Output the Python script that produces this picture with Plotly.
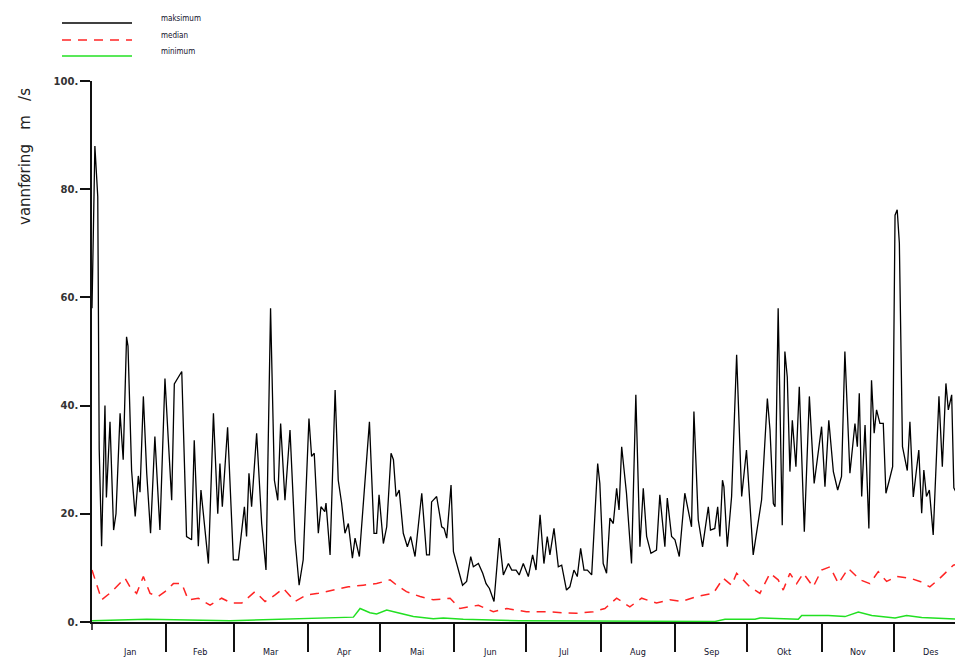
import plotly.graph_objects as go

# ---------------- data ----------------
months = ["Jan", "Feb", "Mar", "Apr", "Mai", "Jun", "Jul", "Aug", "Sep", "Okt", "Nov", "Des"]
month_days = [31, 28, 31, 30, 31, 30, 31, 31, 30, 31, 30, 31]
y_ticks = [0, 20, 40, 60, 80, 100]
y_tick_text = ["0.", "20.", "40.", "60.", "80.", "100."]
series_names = ["maksimum", "median", "minimum"]

max_day = [0, 1.2, 2.4, 3, 4, 5.4, 6, 7.5, 9, 10, 11.7, 13, 14.4, 15, 16.5, 18, 19.3, 20, 21.4, 22.8,
           24.4, 26.2, 28.3, 30.4, 31.8, 33.2, 34.3, 37.4, 39.4, 41.5, 42.6, 44.3, 45.4, 46.8, 48.5,
           50.6, 52.4, 53.3, 54.3, 56.5, 58.9, 61, 63.5, 64.4, 65.4, 66.5, 68.6, 70.7, 72.5, 74.4, 76,
           77.4, 78.6, 80.4, 82.5, 84.6, 86.3, 88, 90.4, 91.5, 92.6, 94.3, 95.4, 97, 97.5, 99.2, 101.3,
           102.6, 104, 105.4, 106.8, 108.5, 109.6, 111.4, 115.6, 117.5, 118.6, 119.6, 121.4, 122.8,
           124.6, 125.6, 126.7, 128, 129.7, 131.4, 132.8, 134.6, 137.4, 139.4, 140.6, 141.5, 143.6,
           145.7, 146.7, 147.8, 149.6, 150.6, 152.6, 154.4, 156.1, 157.8, 158.9, 161, 162.8, 164.2,
           165.6, 167.5, 169.7, 171.4, 173.5, 174.9, 176.7, 178, 179.7, 181.8, 183.6, 185, 186.7,
           188.3, 189.7, 190.8, 192.5, 194.3, 195.7, 197.7, 199.1, 200.8, 202.2, 203.6, 205, 206.4,
           208.2, 209.3, 210.7, 211.6, 213, 214.4, 215.8, 217.2, 218.6, 219.6, 220.7, 222.7, 224.8,
           226.6, 228.3, 229.7, 231.1, 232.9, 235.2, 236.6, 238.7, 239.7, 241.5, 242.9, 244.7, 247,
           249.8, 250.8, 252.6, 254.4, 256.8, 257.7, 259.5, 260.7, 261.6, 262.7, 263.3, 264.7, 266.5,
           268.6, 270.7, 272.7, 275.5, 279, 279.7, 281.4, 282.5, 283.9, 284.6, 285.9, 287.6, 288.7,
           289.7, 290.8, 291.8, 293.3, 294.7, 296.8, 298.9, 300.9, 304, 305.4, 307, 308.9, 310.7,
           312.3, 313.7, 315.8, 317.9, 318.9, 319.7, 320.7, 322.1, 323.7, 324.8, 325.9, 326.9, 328.3,
           329.7, 330.8, 332.2, 333.6, 334.6, 335.5, 336.4, 337.7, 339.7, 340.8, 342.2, 344.5, 345.7,
           346.6, 347.7, 348.9, 350.5, 352.9, 354.3, 355.8, 356.8, 358.2, 359.1, 360]
max_val = [58, 88, 78.6, 32, 14, 40, 23, 37, 17, 20, 38.6, 30, 52.7, 51, 28, 19.5, 27, 24, 41.7, 27.5,
           16.4, 34.3, 17, 45, 33.6, 22.5, 44, 46.3, 15.8, 15.2, 33.6, 14, 24.4, 18.2, 10.8,
           38.6, 20, 29.3, 21.3, 36, 11.5, 11.5, 21.3, 15.8, 27.5, 21.3, 34.9, 18.2, 9.6, 58, 26.2,
           22.5, 36.7, 22.5, 35.5, 15.2, 6.8, 11.5, 37.6, 30.6, 31.2, 16.4, 21.3, 20.4, 22, 12.4, 42.9,
           26.2, 22, 16.4, 18.2, 11.8, 15.5, 12.1, 37, 16.4, 16.4, 23.5, 14.5, 17.6,
           31.2, 30, 23.2, 24.4, 16.4, 13.9, 15.8, 12.1, 23.8, 12.4, 12.4, 22.2, 23.2,
           17.6, 17.3, 15.5, 25.3, 13, 9.6, 6.8, 7.5, 12.1, 10.2, 10.8, 9, 7.1,
           6.2, 3.8, 15.5, 8.7, 10.8, 9.6, 9.6, 8.7, 10.8, 8.4, 12.4, 9.6, 19.8,
           10.8, 15.8, 12.4, 17.3, 10.2, 10.5, 5.9, 6.5, 9.6, 8.4, 13.6, 9.6, 9.6,
           8.7, 18.9, 29.3, 25.6, 10.8, 9, 19.2, 18.2, 24.7, 20.7, 32.4, 23.8, 10.8,
           42, 13.9, 24.7, 15.8, 12.7, 13.3, 23.5, 13.9, 22.9, 15.8, 15.2, 12.1, 23.8,
           17.6, 38.9, 18.9, 13.9, 21.3, 17, 17.3, 21.3, 15.8, 26.2, 25, 13.9, 23.2,
           49.4, 23.2, 31.8, 12.4, 22.6, 27.5, 41.3, 35.5, 21.9, 21.3, 58, 17.9, 50,
           45.3, 27.8, 37.3, 28.7, 43.5, 16.7, 41.7, 25.6, 36.1, 25, 37.3, 27.8, 24.4,
           26.9, 50, 27.5, 36.7, 32.4, 42.3, 23.2, 36.4, 17.3, 44.7, 34.9, 39.2, 36.7,
           36.7, 23.8, 26.2, 28.7, 75.2, 76.2, 70, 32.4, 28, 37, 23.1, 31.8, 20.1,
           28.1, 23.2, 24.4, 16.1, 41.7, 28.7, 44.1, 39.2, 42, 24.8, 24]

med_day = [0, 4, 8.2, 13.75, 15.8, 18.6, 21.4, 24.2, 27.6, 30.4, 33.9, 37.4, 40.1, 44.3, 49.2, 54,
           58.2, 62.4, 67.9, 72.1, 76.3, 79.7, 84.6, 89.4, 94.3, 100.6, 106.8, 113, 118.6, 124.2,
           127, 131, 136.7, 142.2, 149.2, 153.3, 161, 167.2, 172.8, 181, 189.4, 196.4, 201.9, 208.9,
           213.7, 218.6, 224.1, 229, 235.2, 240.8, 245.7, 251.9, 258.9, 263, 266.5, 268.6, 274.1,
           278.3, 282.5, 285.9, 288, 290.8, 293.6, 296.4, 300.5, 304, 307.5, 311, 315.1, 320, 324.1,
           327.6, 331.1, 335.3, 340.8, 345, 349.1, 353.3, 358.9, 360]
med_val = [9.6, 4.1, 5.6, 8.1, 6.5, 5.3, 8.4, 5.3, 4.7, 5.6, 7.1, 7.1, 4.1, 4.4, 3.1, 4.4,
           3.5, 3.5, 5.6, 3.8, 5, 6.2, 3.8, 5, 5.3, 5.9, 6.5, 6.8, 7.1, 7.8,
           6.8, 5.6, 4.7, 4.1, 4.4, 2.5, 3.1, 1.9, 2.5, 1.9, 1.9, 1.7, 1.6, 1.9,
           2.5, 4.4, 2.8, 4.4, 3.5, 4.1, 3.8, 4.7, 5.3, 8.1, 6.8, 9, 6.5,
           5.3, 9, 7.8, 5.9, 9, 7.1, 9, 6.5, 9.6, 10.2, 7.1, 9.9, 7.8, 7.1,
           9.3, 7.5, 8.4, 8.1, 7.5, 6.5, 8.1, 10.5, 10.6]

min_day = [0, 22.8, 57.5, 78, 92, 108.9, 111.7, 115.8, 118.6, 122.8, 128.3, 133.9, 142.2, 146.4,
           154.7, 178, 259.6, 263.75, 276.25, 278.3, 294.3, 295.7, 306.8, 313.75, 319.3, 324.9,
           334.6, 339.4, 345.7, 356.8, 360]
min_val = [0.25, 0.5, 0.25, 0.5, 0.7, 0.9, 2.5, 1.7, 1.5, 2.2, 1.6, 1.0, 0.6, 0.75,
           0.5, 0.25, 0.1, 0.5, 0.5, 0.75, 0.5, 1.2, 1.2, 1.0, 1.85, 1.2,
           0.75, 1.2, 0.85, 0.6, 0.55]

# ---------------- derived axis helpers ----------------
month_ends = []
acc = 0
for d in month_days:
    acc += d
    month_ends.append(acc)
month_starts = [0] + month_ends[:-1]
month_mid = [(a + b) / 2 for a, b in zip(month_starts, month_ends)]

# ---------------- figure ----------------
BLACK = "#000000"
RED = "#ff2424"
GREEN = "#22e022"

fig = go.Figure()
fig.add_trace(go.Scatter(x=max_day, y=max_val, mode="lines", name=series_names[0],
                         line=dict(color=BLACK, width=1.3), showlegend=False))
fig.add_trace(go.Scatter(x=med_day, y=med_val, mode="lines", name=series_names[1],
                         line=dict(color=RED, width=1.5, dash="9px,7px"), showlegend=False))
fig.add_trace(go.Scatter(x=min_day, y=min_val, mode="lines", name=series_names[2],
                         line=dict(color=GREEN, width=1.5), showlegend=False))

W, H = 955, 658
L, R, T, B = 92, 0, 81, 36
pw, ph = W - L - R, H - T - B


def px_x(px):  # page pixel -> paper x
    return (px - L) / pw


def px_y(py):  # page pixel -> paper y
    return (H - B - py) / ph


fig.update_layout(
    width=W, height=H,
    margin=dict(l=L, r=R, t=T, b=B, pad=0),
    paper_bgcolor="white", plot_bgcolor="white",
    showlegend=False,
    xaxis=dict(range=[0, pw / 2.4], showgrid=False, zeroline=False,
               showline=True, linecolor="#111", linewidth=1.5,
               tickvals=month_ends[:-1], ticks="outside", ticklen=28, tickwidth=1.5,
               tickcolor="#111", showticklabels=False, layer="below traces"),
    yaxis=dict(range=[0, 100], showgrid=False, zeroline=False,
               showline=True, linecolor="#111", linewidth=1.5,
               tickvals=y_ticks, ticktext=y_tick_text, ticks="outside", ticklen=10,
               tickwidth=1.5, tickcolor="#111",
               tickfont=dict(family="DejaVu Sans", size=10, color="#333", weight="bold"),
               layer="below traces"),
)

annotations = []
for m, mid in zip(months, month_mid):
    annotations.append(dict(x=mid, y=0, xref="x", yref="y", text=m, showarrow=False,
                            yshift=-30, yanchor="middle", xanchor="center",
                            font=dict(family="Liberation Sans Narrow, DejaVu Sans Condensed, sans-serif",
                                      size=9, color="#10102a")))

# y-axis title
annotations.append(dict(x=px_x(25), y=px_y(157), xref="paper", yref="paper",
                        text="vannføring\u00a0\u00a0\u00a0m\u00a0\u00a0\u00a0/s", textangle=-90,
                        showarrow=False, xanchor="center", yanchor="middle",
                        font=dict(family="DejaVu Sans, sans-serif", size=15, color="#222")))

shapes = []
# short extension of the y-axis line below zero
shapes.append(dict(type="line", xref="paper", yref="paper", x0=0, x1=0,
                   y0=0, y1=px_y(630), line=dict(color="#111", width=1.5)))

# custom legend
legend_rows = [(23, BLACK, "solid", series_names[0], 18),
               (40, RED, "9px,7px", series_names[1], 35),
               (56, GREEN, "solid", series_names[2], 52)]
for ly, col, dsh, name, ty in legend_rows:
    shapes.append(dict(type="line", xref="paper", yref="paper",
                       x0=px_x(62), x1=px_x(132), y0=px_y(ly), y1=px_y(ly),
                       line=dict(color=col, width=1.5, dash=dsh)))
    annotations.append(dict(x=px_x(159), y=px_y(ty), xref="paper", yref="paper", text=name,
                            showarrow=False, xanchor="left", yanchor="middle",
                            font=dict(family="Liberation Sans Narrow, DejaVu Sans Condensed, sans-serif",
                                      size=8, color="#10102a")))

fig.update_layout(annotations=annotations, shapes=shapes)
fig.write_html("out.html", config={"displayModeBar": False},
               post_script="document.body.style.margin='0px';")
